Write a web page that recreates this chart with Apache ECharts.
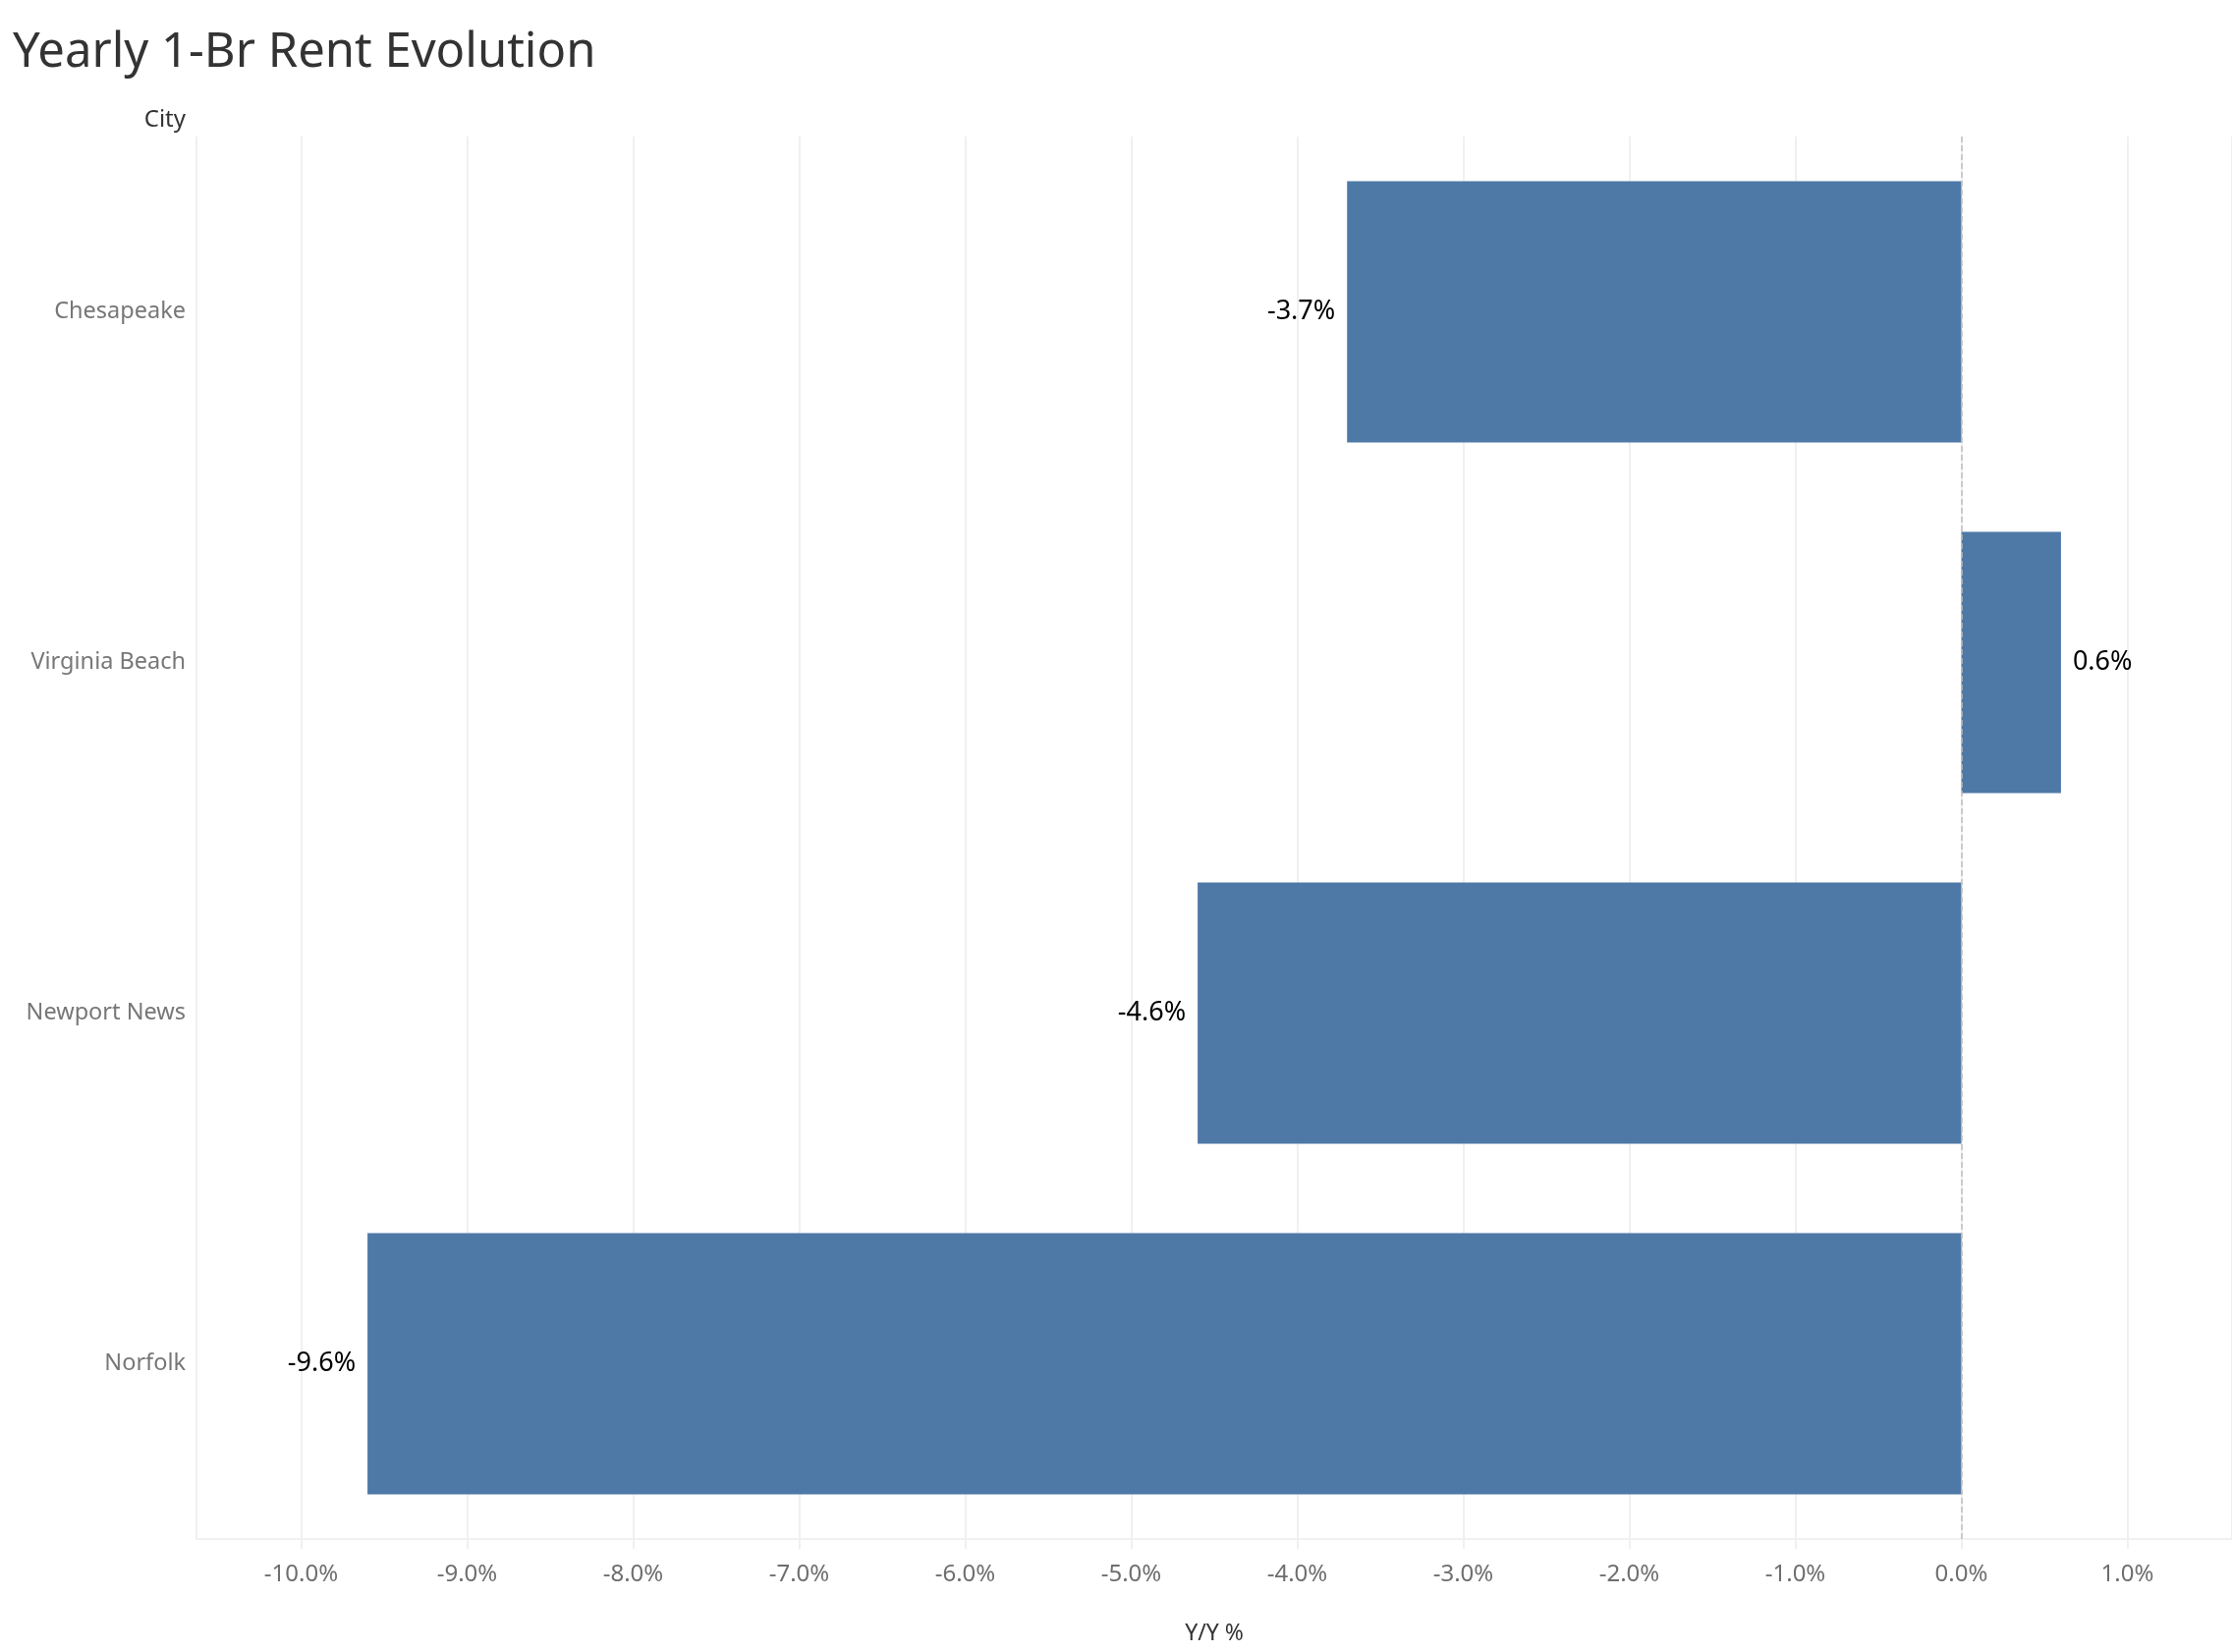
<!DOCTYPE html>
<html>
<head>
<meta charset="utf-8">
<title>Yearly 1-Br Rent Evolution</title>
<script src="https://cdn.jsdelivr.net/npm/echarts@6/dist/echarts.min.js"></script>
<style>
  html, body { margin: 0; padding: 0; background: #fff; }
  #chart { width: 2272px; height: 1682px; }
</style>
</head>
<body>
<div id="chart"></div>
<script>
// Cities, top to bottom
const cities = ['Chesapeake', 'Virginia Beach', 'Newport News', 'Norfolk'];
// Year over year change of 1-bedroom rent, in percent
const yoyChange = [-3.7, 0.6, -4.6, -9.6];

const BAR_COLOR = '#4e79a7';
const FONT = '"Noto Sans", "Open Sans", sans-serif';

const chart = echarts.init(document.getElementById('chart'));

// negative bars get their label on the left, positive on the right
const barData = yoyChange.map(v => ({
  value: v,
  label: { position: v < 0 ? 'left' : 'right' }
}));

const option = {
  animation: false,
  backgroundColor: '#ffffff',
  textStyle: { fontFamily: FONT },
  title: {
    text: 'Yearly 1-Br Rent Evolution',
    left: 8,
    top: 25,
    textStyle: {
      fontFamily: FONT,
      fontSize: 49,
      fontWeight: 'normal',
      color: '#333333'
    }
  },
  grid: {
    left: 200,
    right: 0,
    top: 139,
    bottom: 115,
    containLabel: false
  },
  xAxis: {
    type: 'value',
    min: -10.63,
    max: 1.63,
    minInterval: 1,
    maxInterval: 1,
    name: 'Y/Y %',
    nameLocation: 'middle',
    nameGap: 85,
    nameTextStyle: { fontSize: 23, color: '#333333' },
    axisLine: { show: true, lineStyle: { color: '#f0f0f0', width: 2 } },
    axisTick: { show: true, length: 10, lineStyle: { color: '#f0f0f0', width: 2 } },
    axisLabel: {
      fontSize: 24,
      color: '#6e6e6e',
      margin: 24,
      showMinLabel: false,
      showMaxLabel: false,
      formatter: function (value) {
        if (Math.abs(value - Math.round(value)) > 1e-6) return '';
        return value.toFixed(1) + '%';
      }
    },
    splitLine: { show: true, lineStyle: { color: '#f0f0f0', width: 2 } }
  },
  yAxis: {
    type: 'category',
    data: cities,
    inverse: true,
    name: 'City',
    nameLocation: 'start',
    nameGap: 17,
    nameTextStyle: {
      fontSize: 24,
      color: '#333333',
      align: 'right',
      verticalAlign: 'middle',
      padding: [0, 11, 0, 0]
    },
    axisLine: { show: false, onZero: false },
    axisTick: { show: false },
    axisLabel: {
      fontSize: 23.5,
      color: '#777777',
      margin: 11,
      padding: [6, 0, 0, 0]
    },
    splitLine: { show: false }
  },
  series: [
    {
      name: 'Y/Y %',
      type: 'bar',
      data: barData,
      barCategoryGap: '25.5%',
      itemStyle: { color: BAR_COLOR },
      label: {
        show: true,
        distance: 12,
        fontSize: 27,
        color: '#000000',
        formatter: function (p) {
          return p.value.toFixed(1) + '%';
        }
      },
      markLine: {
        silent: true,
        symbol: 'none',
        label: { show: false },
        lineStyle: { color: '#bdbdbd', type: 'dashed', width: 1.5 },
        data: [{ xAxis: 0 }]
      }
    }
  ]
};

chart.setOption(option);
</script>
</body>
</html>
